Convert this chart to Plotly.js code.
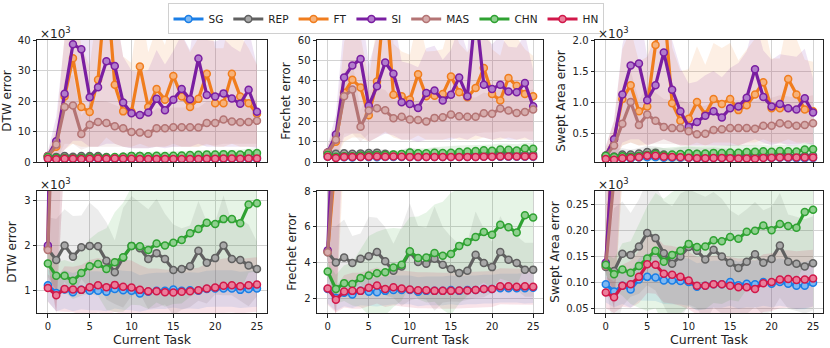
<!DOCTYPE html>
<html>
<head>
<meta charset="utf-8">
<script src="https://cdn.plot.ly/plotly-3.0.1.min.js"></script>
<style>
  body { margin: 0; background: #fff; }
  #chart { width: 830px; height: 348px; }
</style>
</head>
<body>
<div id="chart"></div>
<script>
// Current task index (x axis)
const tasks = [0,1,2,3,4,5,6,7,8,9,10,11,12,13,14,15,16,17,18,19,20,21,22,23,24,25];

const methods = ['SG', 'REP', 'FT', 'SI', 'MAS', 'CHN', 'HN'];
const colors  = ['#1a7ee6', '#606060', '#f07d1e', '#7a1ea1', '#b47474', '#2fa232', '#d1184a'];
const lightColors = ['#7fb8f2', '#a8a8a8', '#f7b27a', '#b27ccc', '#d6acac', '#8fd08f', '#ea7f9b'];

// --- DTW error (x10^3) : mean values ---
const dtwSG  = [1.12,0.95,1.03,0.97,1.02,1.00,1.00,0.98,1.04,1.01,1.00,0.94,0.98,1.00,1.00,1.03,1.00,1.01,1.00,1.04,1.05,1.05,1.05,1.02,1.04,1.05];
const dtwREP = [1.92,1.68,2.00,1.75,1.96,1.99,1.98,1.66,1.41,1.73,1.99,1.94,1.70,1.83,1.70,1.46,1.48,1.54,1.88,1.62,1.72,2.00,1.70,1.68,1.56,1.48];
const dtwFT  = [1.95,5.0,21.5,34.0,18.0,16.4,27.0,60.0,25.3,16.6,16.5,31.3,18.0,23.9,20.4,28.2,21.5,18.0,20.7,28.9,19.3,19.3,28.9,21.5,19.3,15.8];
const dtwSI  = [2.0,6.8,22.4,38.6,37.0,21.2,24.5,33.0,31.5,19.5,16.0,15.4,16.2,20.7,17.0,20.4,23.9,20.6,33.9,22.0,21.5,22.5,20.8,19.1,23.7,16.5];
const dtwMAS = [1.9,5.7,18.0,18.5,9.2,12.2,13.1,12.8,11.7,11.1,9.8,9.7,9.3,11.1,11.1,11.4,11.4,11.4,11.3,12.8,12.8,13.9,13.3,13.0,13.1,13.5];
const dtwCHN = [1.60,1.33,1.33,1.22,1.39,1.54,1.59,1.48,1.63,1.74,1.99,1.98,1.90,2.04,2.00,2.06,2.12,2.27,2.36,2.50,2.47,2.58,2.58,2.49,2.90,2.93];
const dtwHN  = [1.06,0.90,1.04,1.03,1.02,1.08,1.12,1.08,1.13,1.09,1.07,1.02,0.99,0.99,0.97,0.96,0.98,0.99,1.01,1.05,1.07,1.11,1.12,1.10,1.12,1.14];
// DTW spread (upward, and downward unless a lower edge is given)
const sdDtwSG  = [0.35,0.40,0.42,0.42,0.43,0.43,0.43,0.43,0.43,0.43,0.43,0.40,0.40,0.40,0.40,0.40,0.40,0.40,0.40,0.40,0.40,0.40,0.40,0.40,0.40,0.40];
const sdDtwREP = [0.7,0.9,0.8,0.9,0.7,0.95,0.8,0.85,0.7,1.1,1.1,1.0,1.1,1.2,1.0,1.0,0.9,0.9,1.1,0.9,0.8,1.1,0.8,0.9,0.9,0.6];
const sdDtwFT  = [1.5,6,20,25,20,15,25,40,25,18,16,22,18,20,18,22,20,18,20,22,18,18,22,20,18,16];
const sdDtwSI  = [1.5,8,18,22,25,20,20,22,20,15,14,14,14,16,15,16,18,16,22,18,18,18,17,17,20,15];
const sdDtwMAS = [0.8,3,9,10,6,7,7,7,7,6.5,6,6,6,6.5,6.5,6.5,6.5,6.5,6.5,7,7,7,7,7,7,7];
const sdDtwCHN = [0.3,0.3,0.35,0.4,0.5,0.6,0.7,0.9,1.1,1.2,1.3,1.3,1.3,1.3,1.35,1.35,1.4,1.4,1.4,1.45,1.45,1.5,1.5,1.5,1.5,1.5];
const sdDtwHN  = [0.3,0.35,0.5,0.5,0.55,0.6,0.6,0.6,0.6,0.6,0.6,0.55,0.5,0.5,0.5,0.5,0.5,0.5,0.5,0.55,0.6,0.6,0.6,0.6,0.6,0.6];
const loDtwFT  = [1.6,0.5,4,6,5,5,5,8,6,5,5,6,5,5,5,6,5,5,5,6,5,5,6,5,5,5];
const loDtwSI  = [1.6,0.5,4,7,7,5,5,6,6,5,4.5,4.5,4.5,5,4.5,5,5,5,6,5,5,5,5,5,5,4.5];
const loDtwMAS = [1.6,0.6,6,6,4,5,5,5,5,5,4.5,4.5,4.5,5,5,5,5,5,5,5.5,5.5,6,6,6,6,6];

// --- Frechet error : mean values ---
const frSG  = [2.55,2.05,2.35,2.25,2.45,2.40,2.38,2.45,2.50,2.50,2.50,2.40,2.45,2.45,2.45,2.50,2.45,2.50,2.50,2.55,2.55,2.60,2.60,2.60,2.60,2.62];
const frREP = [4.60,4.03,4.31,4.00,4.24,4.37,4.61,4.09,3.57,3.81,4.61,4.05,3.96,4.24,3.90,3.66,3.44,3.57,4.46,4.00,3.77,4.61,4.18,4.00,3.63,3.63];
const frFT  = [4.65,10.0,34.0,40.5,36.7,23.0,39.6,85.0,33.1,32.3,30.7,43.2,32.3,32.6,33.4,42.1,34.3,31.8,36.4,46.2,33.4,30.3,41.3,37.5,33.4,32.3];
const frSI  = [4.7,13.5,41.6,47.5,50.6,27.7,37.2,48.9,43.4,29.4,28.5,26.6,33.9,35.2,30.3,33.1,41.6,32.3,75.0,38.0,35.9,38.0,34.7,34.3,38.8,27.4];
const frMAS = [4.6,11.0,32.3,35.6,17.3,25.3,26.4,25.4,21.5,22.2,20.9,20.6,19.9,21.7,22.0,23.3,22.5,22.2,22.2,24.0,23.7,26.3,25.3,24.1,24.6,25.8];
const frCHN = [3.53,2.55,2.88,2.83,3.16,3.30,3.43,3.49,3.75,3.90,4.65,4.28,4.30,4.55,4.40,4.50,4.95,5.16,5.44,5.72,5.57,6.13,5.98,5.70,6.65,6.53];
const frHN  = [2.58,1.95,2.42,2.45,2.45,2.62,2.75,2.55,2.65,2.58,2.52,2.48,2.48,2.45,2.45,2.45,2.47,2.47,2.50,2.55,2.55,2.70,2.70,2.68,2.70,2.68];
// Frechet spread
const sdFrSG  = [0.8,0.7,0.75,0.75,0.8,0.8,0.8,0.8,0.8,0.8,0.8,0.8,0.8,0.8,0.8,0.8,0.8,0.8,0.8,0.8,0.8,0.8,0.8,0.8,0.85,0.85];
const sdFrREP = [1.3,2.0,2.1,1.5,1.4,2.2,1.9,1.9,1.5,2.2,2.7,2.0,2.0,2.9,2.1,1.8,1.6,1.6,2.4,1.9,1.4,2.0,1.6,1.5,1.5,1.5];
const sdFrFT  = [3.5,8,25,28,25,18,28,50,25,22,22,28,22,22,22,28,24,22,24,28,22,22,26,24,22,20];
const sdFrSI  = [3.5,10,28,30,30,20,25,30,28,20,20,20,22,22,20,22,25,22,35,24,22,24,22,22,24,18];
const sdFrMAS = [2,4,12,14,8,10,10,10,9,9,9,9,9,9,9,9.5,9.5,9.5,9.5,10,10,10,10,10,10,10];
const sdFrCHN = [0.5,0.8,1.0,1.2,1.6,2.2,2.3,2.4,2.2,2.0,1.9,2.3,2.5,2.7,3.0,3.4,3.2,3.0,2.8,2.8,3.0,3.0,3.0,3.0,2.8,2.8];
const sdFrHN  = [0.9,0.7,0.9,1.0,1.0,1.0,1.0,1.0,1.0,1.0,1.0,1.0,1.0,1.0,1.0,1.0,1.0,1.0,1.0,1.0,1.0,1.0,1.0,1.0,1.0,1.0];
const loFrFT  = [4.2,1.0,10,12,12,10,12,15,12,11,11,13,11,11,11,12,11,11,11,12,11,11,12,11,11,11];
const loFrSI  = [4.2,1.0,12,14,14,10,12,14,13,11,11,10,11,11,11,11,12,11,13,12,11,12,11,11,12,10];
const loFrMAS = [4.2,1.0,14,14,10,14,14,14,14,14,14,14,14,14,14,14,14,14,14,14.5,14.5,15,15,15,15,15];

// --- Swept Area error (x10^3) : mean values ---
const swSG  = [0.097,0.083,0.094,0.087,0.106,0.111,0.110,0.104,0.104,0.103,0.101,0.092,0.094,0.097,0.097,0.101,0.095,0.098,0.097,0.101,0.098,0.101,0.098,0.094,0.094,0.100];
const swREP = [0.130,0.122,0.155,0.153,0.169,0.195,0.185,0.156,0.136,0.150,0.168,0.161,0.144,0.163,0.150,0.138,0.128,0.140,0.154,0.138,0.145,0.171,0.140,0.136,0.131,0.137];
const swFT  = [0.135,0.40,1.05,1.27,0.85,0.93,1.92,2.60,0.98,0.70,0.73,1.00,0.80,1.05,0.97,1.05,0.87,0.95,1.12,1.32,0.90,0.90,1.37,1.12,0.88,0.85];
const swSI  = [0.138,0.40,1.12,1.59,1.62,1.03,1.27,1.80,1.20,0.85,0.60,0.68,0.78,0.85,0.75,0.90,0.93,1.07,1.53,1.08,0.93,0.97,0.90,0.88,1.06,0.83];
const swMAS = [0.132,0.30,0.65,1.00,0.63,0.80,0.70,0.60,0.58,0.58,0.53,0.48,0.49,0.55,0.56,0.58,0.58,0.58,0.57,0.62,0.62,0.66,0.64,0.62,0.63,0.66];
const swCHN = [0.134,0.116,0.125,0.119,0.132,0.146,0.161,0.140,0.153,0.161,0.174,0.168,0.169,0.181,0.179,0.187,0.184,0.197,0.199,0.209,0.200,0.212,0.208,0.205,0.235,0.239];
const swHN  = [0.081,0.072,0.094,0.097,0.111,0.135,0.134,0.117,0.115,0.111,0.104,0.094,0.094,0.097,0.097,0.094,0.091,0.091,0.088,0.099,0.101,0.106,0.107,0.105,0.106,0.108];
// Swept Area spread
const sdSwSG  = [0.035,0.03,0.035,0.035,0.04,0.045,0.045,0.045,0.045,0.045,0.045,0.045,0.045,0.045,0.045,0.045,0.045,0.045,0.045,0.045,0.045,0.045,0.045,0.045,0.045,0.045];
const sdSwREP = [0.03,0.12,0.1,0.08,0.09,0.1,0.1,0.1,0.11,0.12,0.11,0.11,0.12,0.11,0.11,0.1,0.1,0.1,0.1,0.1,0.1,0.1,0.09,0.09,0.09,0.09];
const sdSwFT  = [0.15,0.3,0.8,0.9,0.8,0.8,1.0,1.4,0.9,0.8,0.8,0.9,0.8,0.9,0.9,0.9,0.8,0.9,0.9,1.0,0.8,0.8,1.0,0.9,0.8,0.8];
const sdSwSI  = [0.15,0.3,0.8,0.9,0.9,0.7,0.8,0.9,0.8,0.7,0.7,0.65,0.65,0.65,0.65,0.65,0.7,0.75,0.8,0.75,0.75,0.8,0.85,0.85,0.8,0.55];
const sdSwMAS = [0.1,0.15,0.35,0.5,0.4,0.45,0.45,0.45,0.45,0.45,0.45,0.45,0.45,0.45,0.45,0.45,0.45,0.45,0.45,0.45,0.45,0.45,0.45,0.45,0.45,0.45];
const sdSwCHN = [0.02,0.03,0.05,0.06,0.08,0.1,0.11,0.12,0.12,0.12,0.12,0.12,0.12,0.12,0.12,0.12,0.12,0.11,0.11,0.1,0.1,0.1,0.1,0.1,0.1,0.1];
const sdSwHN  = [0.03,0.03,0.04,0.045,0.05,0.055,0.055,0.055,0.055,0.055,0.055,0.055,0.055,0.055,0.055,0.055,0.055,0.055,0.055,0.055,0.055,0.055,0.055,0.055,0.055,0.055];
const loSwFT  = [0.12,0.05,0.3,0.35,0.3,0.3,0.35,0.4,0.35,0.3,0.3,0.35,0.3,0.35,0.35,0.35,0.3,0.35,0.35,0.4,0.35,0.35,0.4,0.35,0.35,0.35];
const loSwSI  = [0.12,0.05,0.35,0.4,0.4,0.3,0.35,0.4,0.35,0.3,0.3,0.3,0.3,0.3,0.3,0.3,0.3,0.35,0.4,0.35,0.3,0.35,0.3,0.3,0.35,0.3];
const loSwMAS = [0.12,0.05,0.3,0.35,0.3,0.33,0.33,0.33,0.32,0.32,0.3,0.3,0.3,0.3,0.3,0.3,0.3,0.3,0.3,0.32,0.32,0.33,0.33,0.33,0.33,0.33];

const dtwMean = [dtwSG, dtwREP, dtwFT, dtwSI, dtwMAS, dtwCHN, dtwHN];
const dtwSd   = [sdDtwSG, sdDtwREP, sdDtwFT, sdDtwSI, sdDtwMAS, sdDtwCHN, sdDtwHN];
const dtwLo   = [null, null, loDtwFT, loDtwSI, loDtwMAS, null, null];
const frMean  = [frSG, frREP, frFT, frSI, frMAS, frCHN, frHN];
const frSd    = [sdFrSG, sdFrREP, sdFrFT, sdFrSI, sdFrMAS, sdFrCHN, sdFrHN];
const frLo    = [null, null, loFrFT, loFrSI, loFrMAS, null, null];
const swMean  = [swSG, swREP, swFT, swSI, swMAS, swCHN, swHN];
const swSd    = [sdSwSG, sdSwREP, sdSwFT, sdSwSI, sdSwMAS, sdSwCHN, sdSwHN];
const swLo    = [null, null, loSwFT, loSwSI, loSwMAS, null, null];

// pixel boxes -> paper fractions (830 x 348)
const W = 830, H = 348;
const colPx = [[37, 267], [317, 543], [595, 823]];
const rowPx = [[40, 162], [191, 313]];

// Panels: row 0 = full view, row 1 = zoomed view of the same runs
const panels = [
  { mean: dtwMean, sd: dtwSd, lo: dtwLo, row: 0, col: 0, range: [0, 40],      ticks: [0, 10, 20, 30, 40],   fmt: '',    title: 'DTW error',        scale: true },
  { mean: frMean,  sd: frSd,  lo: frLo,  row: 0, col: 1, range: [0, 60],      ticks: [0, 10, 20, 30, 40, 50, 60], fmt: '', title: 'Frechet error', scale: false },
  { mean: swMean,  sd: swSd,  lo: swLo,  row: 0, col: 2, range: [0.034, 2.0], ticks: [0.5, 1.0, 1.5, 2.0], fmt: '.1f', title: 'Swept Area error', scale: true },
  { mean: dtwMean, sd: dtwSd, lo: dtwLo, row: 1, col: 0, range: [0.51, 3.2],  ticks: [1, 2, 3],            fmt: '',    title: 'DTW error',        scale: true },
  { mean: frMean,  sd: frSd,  lo: frLo,  row: 1, col: 1, range: [1.22, 8],    ticks: [2, 4, 6, 8],         fmt: '',    title: 'Frechet error',    scale: false },
  { mean: swMean,  sd: swSd,  lo: swLo,  row: 1, col: 2, range: [0.042, 0.275], ticks: [0.05, 0.10, 0.15, 0.20, 0.25], fmt: '.2f', title: 'Swept Area error', scale: true }
];

function hexToRgba(hex, a) {
  const n = parseInt(hex.slice(1), 16);
  return `rgba(${(n >> 16) & 255}, ${(n >> 8) & 255}, ${n & 255}, ${a})`;
}

const data = [];
const layout = {
  width: W, height: H,
  margin: { l: 0, r: 0, t: 0, b: 0 },
  paper_bgcolor: '#fff',
  plot_bgcolor: '#fff',
  font: { family: 'DejaVu Sans, sans-serif', size: 10, color: '#222' },
  showlegend: true,
  legend: {
    orientation: 'h',
    x: 0.203, xanchor: 'left',
    y: 0.99, yanchor: 'top',
    bordercolor: '#d0d0d0', borderwidth: 1,
    font: { size: 10.5, color: '#222' },
    itemwidth: 30,
    tracegroupgap: 0
  },
  annotations: []
};

panels.forEach((p, i) => {
  const n = i + 1;
  const xa = 'x' + (n === 1 ? '' : n);
  const ya = 'y' + (n === 1 ? '' : n);

  // 1. shaded spread bands (upper edge first, then lower edge filled to it)
  p.mean.forEach((m, s) => {
    const sd = p.sd[s];
    const lo = p.lo[s];
    data.push({
      x: tasks, y: m.map((v, k) => v + sd[k]),
      type: 'scatter', mode: 'lines', line: { width: 0 },
      xaxis: xa, yaxis: ya, showlegend: false, hoverinfo: 'skip'
    });
    data.push({
      x: tasks, y: lo ? lo : m.map((v, k) => v - sd[k]),
      type: 'scatter', mode: 'lines', line: { width: 0 },
      fill: 'tonexty', fillcolor: hexToRgba(colors[s], 0.12),
      xaxis: xa, yaxis: ya, showlegend: false, hoverinfo: 'skip'
    });
  });

  // 2. mean lines with markers
  p.mean.forEach((m, s) => {
    data.push({
      x: tasks, y: m,
      type: 'scatter', mode: 'lines+markers',
      name: methods[s], legendgroup: methods[s],
      showlegend: i === 0,
      line: { color: colors[s], width: 3.2 },
      marker: { symbol: 'circle', size: 7, color: lightColors[s], line: { color: colors[s], width: 1.5 } },
      xaxis: xa, yaxis: ya
    });
  });

  const cx = colPx[p.col], ry = rowPx[p.row];
  layout['xaxis' + (n === 1 ? '' : n)] = {
    domain: [cx[0] / W, cx[1] / W],
    anchor: ya,
    range: [-1.3, 26.2],
    tickvals: [0, 5, 10, 15, 20, 25],
    showticklabels: p.row === 1,
    ticks: 'outside', ticklen: 3.5, tickcolor: '#222',
    showgrid: true, gridcolor: '#d3d3d3', gridwidth: 1,
    showline: true, linecolor: '#222', linewidth: 1, mirror: true,
    zeroline: false,
    tickfont: { size: 10 },
    title: p.row === 1 ? { text: 'Current Task', font: { size: 12.5 }, standoff: 2 } : { text: '' }
  };
  layout['yaxis' + (n === 1 ? '' : n)] = {
    domain: [1 - ry[1] / H, 1 - ry[0] / H],
    anchor: xa,
    range: p.range,
    tickvals: p.ticks,
    tickformat: p.fmt,
    ticks: 'outside', ticklen: 3.5, tickcolor: '#222',
    showgrid: true, gridcolor: '#d3d3d3', gridwidth: 1,
    showline: true, linecolor: '#222', linewidth: 1, mirror: true,
    zeroline: false,
    tickfont: { size: 10 },
    title: { text: p.title, font: { size: 12 }, standoff: 4 }
  };

  if (p.scale) {
    layout.annotations.push({
      xref: 'paper', yref: 'paper',
      x: (cx[0] + 1) / W, y: 1 - (ry[0] - 7) / H,
      xanchor: 'left', yanchor: 'middle',
      text: '×10<sup>3</sup>', showarrow: false,
      font: { size: 12, color: '#222' }
    });
  }
});

Plotly.newPlot('chart', data, layout, { staticPlot: true, displayModeBar: false });
</script>
</body>
</html>
